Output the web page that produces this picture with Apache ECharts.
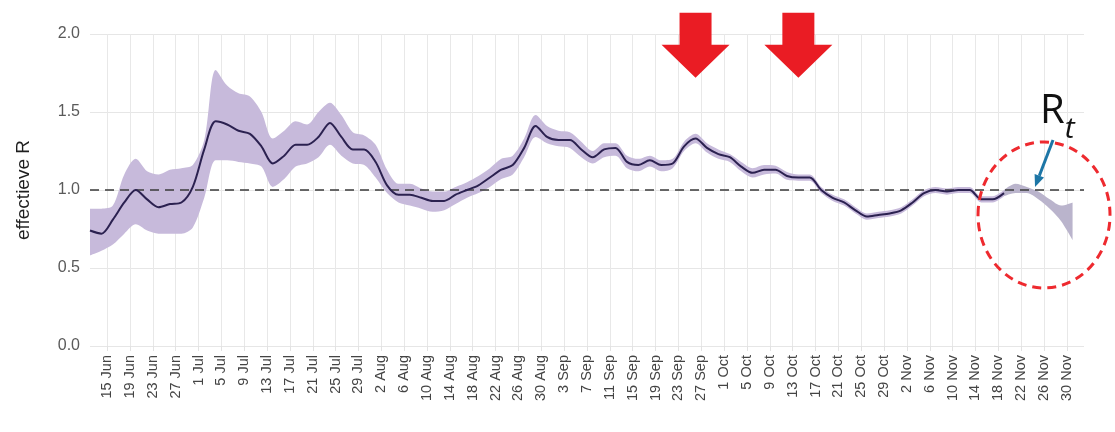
<!DOCTYPE html>
<html>
<head>
<meta charset="utf-8">
<script src="https://cdn.jsdelivr.net/npm/echarts@6/dist/echarts.min.js"></script>
<style>
html,body{margin:0;padding:0;background:#fff;}
#chart{width:1115px;height:432px;}
</style>
</head>
<body>
<div id="chart"></div>
<script>
// ---------- DATA ----------
// Sample dates (every 2 days) at which the curve was read
const sampleDates = [
 '12 Jun','14 Jun','16 Jun','18 Jun','20 Jun','22 Jun','24 Jun','26 Jun','28 Jun','30 Jun',
 '2 Jul','4 Jul','6 Jul','8 Jul','10 Jul','12 Jul','14 Jul','16 Jul','18 Jul','20 Jul','22 Jul','24 Jul','26 Jul','28 Jul','30 Jul',
 '1 Aug','3 Aug','5 Aug','7 Aug','9 Aug','11 Aug','13 Aug','15 Aug','17 Aug','19 Aug','21 Aug','23 Aug','25 Aug','27 Aug','29 Aug','31 Aug',
 '2 Sep','4 Sep','6 Sep','8 Sep','10 Sep','12 Sep','14 Sep','16 Sep','18 Sep','20 Sep','22 Sep','24 Sep','26 Sep','28 Sep','30 Sep',
 '2 Oct','4 Oct','6 Oct','8 Oct','10 Oct','12 Oct','14 Oct','16 Oct','18 Oct','20 Oct','22 Oct','24 Oct','26 Oct','28 Oct','30 Oct',
 '1 Nov','3 Nov','5 Nov','7 Nov','9 Nov','11 Nov','13 Nov','15 Nov','17 Nov','19 Nov','21 Nov','23 Nov','25 Nov','27 Nov','29 Nov',
 '1 Dec'
];
// Effective R (central estimate); null where only the uncertainty band is shown
const rMid = [
 0.74,0.72,0.81,0.92,1.00,0.94,0.89,0.91,0.92,1.02,
 1.26,1.44,1.42,1.38,1.36,1.28,1.17,1.22,1.29,1.29,1.34,1.43,1.34,1.26,1.26,
 1.18,1.03,0.97,0.97,0.95,0.93,0.93,0.97,1.00,1.03,1.08,1.13,1.16,1.27,1.41,1.34,
 1.32,1.32,1.26,1.21,1.26,1.27,1.18,1.16,1.19,1.16,1.17,1.28,1.33,1.27,1.23,
 1.21,1.15,1.11,1.13,1.13,1.09,1.08,1.08,1.00,0.95,0.92,0.87,0.83,0.84,0.85,
 0.87,0.92,0.98,1.00,0.99,1.00,1.00,0.94,0.94,0.98,null,null,null,null,null,
 null
];
// Upper bound of uncertainty band
const rHigh = [
 0.88,0.88,0.90,1.10,1.20,1.12,1.10,1.13,1.14,1.16,
 1.32,1.77,1.67,1.62,1.60,1.50,1.33,1.38,1.44,1.42,1.50,1.56,1.48,1.37,1.35,
 1.29,1.13,1.04,1.04,1.01,0.99,0.99,1.02,1.05,1.09,1.14,1.20,1.22,1.33,1.48,1.41,
 1.38,1.37,1.31,1.25,1.30,1.30,1.22,1.20,1.22,1.19,1.20,1.31,1.36,1.30,1.26,
 1.23,1.18,1.14,1.16,1.155,1.115,1.10,1.10,1.02,0.97,0.94,0.89,0.85,0.86,0.87,
 0.89,0.94,1.00,1.02,1.01,1.02,1.02,0.96,0.96,1.00,1.04,1.02,0.99,0.94,0.90,
 0.92
];
// Lower bound of uncertainty band
const rLow = [
 0.58,0.61,0.65,0.72,0.78,0.74,0.72,0.72,0.72,0.76,
 0.95,1.19,1.19,1.18,1.17,1.15,1.02,1.07,1.15,1.17,1.21,1.29,1.22,1.17,1.16,
 1.08,0.98,0.92,0.90,0.88,0.86,0.87,0.91,0.95,0.98,1.02,1.07,1.10,1.21,1.34,1.30,
 1.28,1.27,1.21,1.17,1.21,1.22,1.14,1.12,1.15,1.12,1.14,1.25,1.30,1.24,1.20,
 1.18,1.12,1.08,1.10,1.105,1.065,1.06,1.06,0.98,0.93,0.90,0.85,0.81,0.82,0.83,
 0.85,0.90,0.96,0.98,0.97,0.98,0.98,0.92,0.92,0.96,0.98,0.98,0.94,0.88,0.80,
 0.68
];
const lastEstimateIndex = 80;          // last sample with a central estimate
const yTicks = [0, 0.5, 1.0, 1.5, 2.0];
const referenceLevel = 1.0;
const arrowDates = ['26 Sep', '14 Oct'];
const focusDate = '26 Nov';
const yAxisTitle = 'effectieve R';

// ---------- AXIS CATEGORIES (daily) ----------
const monthNames = ['Jan','Feb','Mar','Apr','May','Jun','Jul','Aug','Sep','Oct','Nov','Dec'];
const categories = [];
for (let d = new Date(2020, 5, 12); d <= new Date(2020, 11, 3); d.setDate(d.getDate() + 1)) {
  categories.push(d.getDate() + ' ' + monthNames[d.getMonth()]);
}
const tickEvery = (i) => (i - 3) % 4 === 0;

function pairs(vals, from, to) {
  const out = [];
  for (let k = from; k <= to; k++) out.push([sampleDates[k], vals[k]]);
  return out;
}
function spanPairs(from, to) {
  const out = [];
  for (let k = from; k <= to; k++) out.push([sampleDates[k], +(rHigh[k] - rLow[k]).toFixed(4)]);
  return out;
}
const lastK = sampleDates.length - 1;
const SMOOTH = 0.3;

const chart = echarts.init(document.getElementById('chart'), null, {renderer: 'canvas'});
const bandHidden = {lineStyle: {opacity: 0}, symbol: 'none', silent: true, smooth: SMOOTH};
const font = 'Liberation Sans, Arial, sans-serif';

chart.setOption({
  animation: false,
  backgroundColor: '#ffffff',
  grid: {left: 90, right: 31, top: 34, bottom: 86},
  xAxis: {
    type: 'category',
    data: categories,
    boundaryGap: false,
    axisLine: {show: false},
    axisTick: {show: true, interval: tickEvery, length: 5, lineStyle: {color: '#e2e2e2'}},
    axisLabel: {interval: tickEvery, rotate: 90, margin: 9, fontSize: 14.5,
      color: '#444', fontFamily: font},
    splitLine: {show: true, interval: tickEvery, lineStyle: {color: '#e8e8e8', width: 1}}
  },
  yAxis: {
    type: 'value', min: yTicks[0], max: yTicks[yTicks.length - 1], interval: 0.5,
    axisLine: {show: false}, axisTick: {show: false},
    axisLabel: {formatter: (v) => v.toFixed(1), fontSize: 16, color: '#5a5a5a', margin: 10,
      fontFamily: font},
    splitLine: {lineStyle: {color: '#e6e6e6', width: 1}},
    name: yAxisTitle, nameLocation: 'middle', nameGap: 57,
    nameTextStyle: {fontSize: 19, color: '#1e1e1e', fontFamily: font}
  },
  series: [
    Object.assign({type: 'line', name: 'low', stack: 'band', data: pairs(rLow, 0, lastEstimateIndex)}, bandHidden),
    Object.assign({type: 'line', name: 'span', stack: 'band', data: spanPairs(0, lastEstimateIndex),
      areaStyle: {color: '#c7badb', opacity: 1}}, bandHidden),
    Object.assign({type: 'line', name: 'lowTail', stack: 'tail', data: pairs(rLow, lastEstimateIndex, lastK)}, bandHidden),
    Object.assign({type: 'line', name: 'spanTail', stack: 'tail', data: spanPairs(lastEstimateIndex, lastK),
      areaStyle: {color: '#bab4cc', opacity: 1}}, bandHidden),
    {
      type: 'line', name: 'R', data: pairs(rMid, 0, lastEstimateIndex), symbol: 'none', z: 5,
      smooth: SMOOTH,
      lineStyle: {color: '#2b2150', width: 2},
      markLine: {
        silent: true, symbol: 'none', label: {show: false},
        lineStyle: {color: '#3a3a3a', type: [9, 6], width: 1.6},
        data: [{yAxis: referenceLevel}]
      }
    }
  ]
});

// ---------- ANNOTATIONS (anchored via the chart's own scales) ----------
const graphics = [];
arrowDates.forEach((d) => {
  const tip = chart.convertToPixel({gridIndex: 0}, [d, 1.72]);
  const tx = tip[0], ty = tip[1];
  graphics.push({
    type: 'polygon', z: 100,
    shape: {points: [[tx - 16, ty - 65], [tx + 16, ty - 65], [tx + 16, ty - 33], [tx + 34, ty - 33],
      [tx, ty], [tx - 34, ty - 33], [tx - 16, ty - 33]]},
    style: {fill: '#ea1c24'}
  });
});
const c = chart.convertToPixel({gridIndex: 0}, [focusDate, 0.84]);
graphics.push({
  type: 'ellipse', z: 100,
  shape: {cx: c[0], cy: c[1], rx: 66, ry: 73},
  style: {fill: 'none', stroke: '#ee2a2f', lineWidth: 3, lineDash: [9, 6]}
});
const a = chart.convertToPixel({gridIndex: 0}, [focusDate, referenceLevel]);
const tipX = a[0] - 9, tipY = a[1] - 3;
graphics.push({
  type: 'line', z: 101,
  shape: {x1: tipX + 18, y1: tipY - 47, x2: tipX + 4.3, y2: tipY - 11.2},
  style: {stroke: '#1d76a6', lineWidth: 3}
});
graphics.push({
  type: 'polygon', z: 101,
  shape: {points: [[tipX, tipY], [tipX + 9, tipY - 9.4], [tipX - 0.4, tipY - 13]]},
  style: {fill: '#1d76a6'}
});
graphics.push({
  type: 'text', z: 101,
  x: tipX + 5, y: tipY - 95,
  style: {
    text: '{r|R}{t|t}',
    rich: {
      r: {fontSize: 40, fontFamily: 'Open Sans, Lato, sans-serif', fill: '#111', verticalAlign: 'top'},
      t: {fontSize: 30, fontStyle: 'italic', fontFamily: 'Open Sans, Lato, sans-serif', fill: '#111', padding: [22, 0, 0, 0]}
    }
  }
});
chart.setOption({graphic: graphics});
</script>
</body>
</html>
